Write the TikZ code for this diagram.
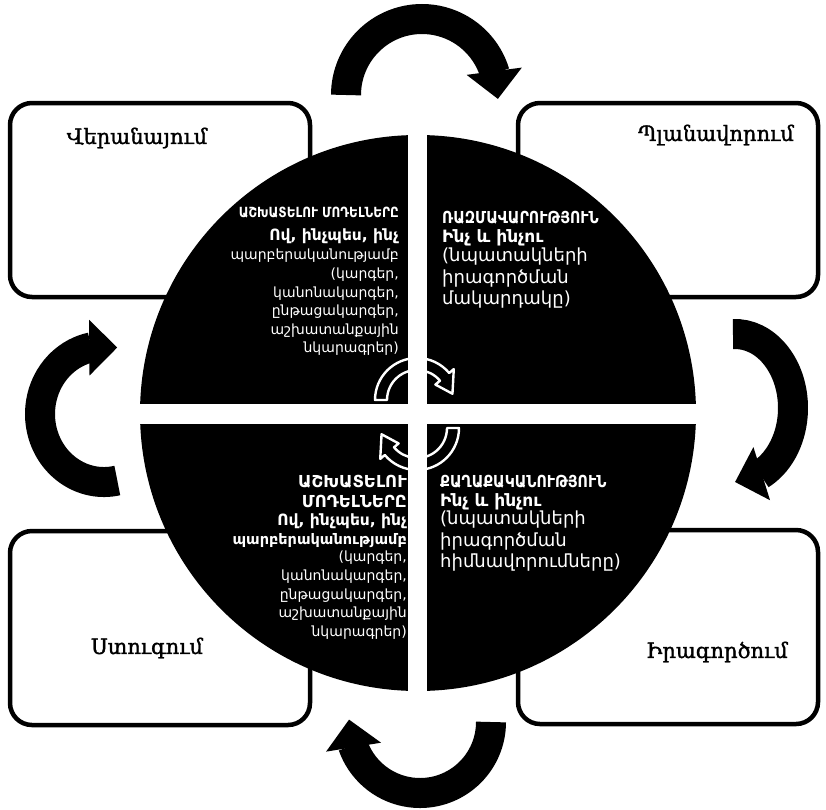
\documentclass[tikz,border=0pt]{standalone}
\usepackage{fontspec}
\setmainfont{DejaVu Serif}
\newfontfamily\stagefont[FakeBold=1.5]{DejaVu Serif}
\newfontfamily\armsans{DejaVu Sans}
\newfontfamily\armcaps[FakeStretch=0.86]{DejaVu Sans}
\usepackage{tikz}
\usetikzlibrary{arrows.meta, bending}

\begin{document}
\begin{tikzpicture}[
  x=1pt, y=-1pt,
  stagebox/.style={
    rectangle, rounded corners=22pt,
    minimum width=300pt, minimum height=194pt,
    draw=black, line width=4.5pt, fill=white
  },
  stagelabel/.style={font=\stagefont\fontsize{21}{25}\selectfont, text=black},
  quadtext/.style={text=white, inner sep=0pt},
  headsmall/.style={quadtext, font=\armcaps\bfseries\fontsize{14}{19}\selectfont},
  headbig/.style={quadtext, font=\armcaps\bfseries\fontsize{16.5}{20}\selectfont},
  subline/.style={quadtext, font=\armsans\bfseries\fontsize{#1}{20}\selectfont},
  bodysmall/.style={quadtext, font=\armsans\fontsize{14}{18.6}\selectfont},
  bodybig/.style={quadtext, font=\armsans\fontsize{18}{21.3}\selectfont},
  bigarrow/.style={line width=30pt, -{Triangle[length=28pt, width=54pt, flex]}},
  cyclearrow/.style={draw=white, line width=2.4pt, line join=round},
]
\fill[white] (0,0) rectangle (826,809);
\useasboundingbox (0,0) rectangle (826,809);

% === STAGE BOXES ===
\node[stagebox] (review) at (160,200) {};
\node[stagebox] (plan) at (668,200) {};
\node[stagebox] (check) at (160,628) {};
\node[stagebox] (doit) at (668,627) {};

\node[stagelabel] (reviewlbl) at (137,138) {Վերանայում};
\node[stagelabel] (planlbl) at (716,135) {Պլանավորում};
\node[stagelabel] (checklbl) at (147,648) {Ստուգում};
\node[stagelabel] (doitlbl) at (717,652) {Իրագործում};

% === CENTRAL DISC ===
\node[circle, fill=black, inner sep=0pt, minimum size=556pt] (hub) at (418,413) {};
\begin{scope}
  \clip (418,413) circle[radius=279];
  \fill[white] (408,120) rectangle (427,710);
  \fill[white] (130,404) rectangle (710,424);
\end{scope}

% === QUADRANT TEXTS ===
% top left
\node[headsmall, anchor=east] (tlhead) at (399,213) {ԱՇԽԱՏԵԼՈՒ ՄՈԴԵԼՆԵՐԸ};
\node[subline=15.5, anchor=east] (tlsub) at (399,236) {Ով, ինչպես, ինչ};
\node[bodysmall, anchor=north east, align=right] (tlbody) at (399,249) {
  պարբերականությամբ\\
  (կարգեր,\\
  կանոնակարգեր,\\
  ընթացակարգեր,\\
  աշխատանքային\\
  նկարագրեր)
};

% top right
\node[headbig, anchor=west] (trhead) at (442,218) {ՌԱԶՄԱՎԱՐՈՒԹՅՈՒՆ};
\node[subline=17, anchor=west] (trsub) at (442,238) {Ինչ և ինչու};
\node[bodybig, anchor=north west, align=left] (trbody) at (442,248) {
  (նպատակների\\
  իրագործման\\
  մակարդակը)
};

% bottom left
\node[headbig, anchor=north east, align=right, font=\armsans\bfseries\fontsize{16.5}{20}\selectfont]
  (blhead) at (407,475) {ԱՇԽԱՏԵԼՈՒ\\ ՄՈԴԵԼՆԵՐԸ};
\node[subline=15.5, anchor=east] (blsub) at (407,521) {Ով, ինչպես, ինչ};
\node[subline=14.5, anchor=east] (blsub2) at (407,541) {պարբերականությամբ};
\node[bodysmall, anchor=north east, align=right] (blbody) at (407,551) {
  (կարգեր,\\
  կանոնակարգեր,\\
  ընթացակարգեր,\\
  աշխատանքային\\
  նկարագրեր)
};

% bottom right
\node[headbig, anchor=west] (brhead) at (440,482) {ՔԱՂԱՔԱԿԱՆՈՒԹՅՈՒՆ};
\node[subline=17, anchor=west] (brsub) at (440,502) {Ինչ և ինչու};
\node[bodybig, anchor=north west, align=left] (brbody) at (440,511) {
  (նպատակների\\
  իրագործման\\
  հիմնավորումները)
};

% === SMALL CYCLE ARROWS (centre) ===
\draw[cyclearrow, shift={(417,400)}]
  (180:42) arc[start angle=180, end angle=320, radius=42]
  -- (320:48) -- (350:36) -- (320:24) -- (320:30)
  arc[start angle=320, end angle=180, radius=30] -- cycle;
\draw[cyclearrow, shift={(417,428)}]
  (0:42) arc[start angle=0, end angle=140, radius=42]
  -- (140:48) -- (170:36) -- (140:24) -- (140:30)
  arc[start angle=140, end angle=0, radius=30] -- cycle;

% === BIG CYCLE ARROWS ===
\coordinate (topc) at (422,95);
\coordinate (rightc) at (735,408);
\coordinate (botc) at (420,722);
\coordinate (leftc) at (104,414);

\draw[bigarrow] ([shift={(180:76)}]topc) arc[start angle=180, end angle=363, radius=76];
\draw[bigarrow] ([shift={(268:58 and 74)}]rightc) arc[start angle=268, end angle=450, x radius=58, y radius=74];
\draw[bigarrow] ([shift={(0:71)}]botc) arc[start angle=0, end angle=182, radius=71];
\draw[bigarrow] ([shift={(78:64 and 68)}]leftc) arc[start angle=78, end angle=282, x radius=64, y radius=68];

\end{tikzpicture}
\end{document}
